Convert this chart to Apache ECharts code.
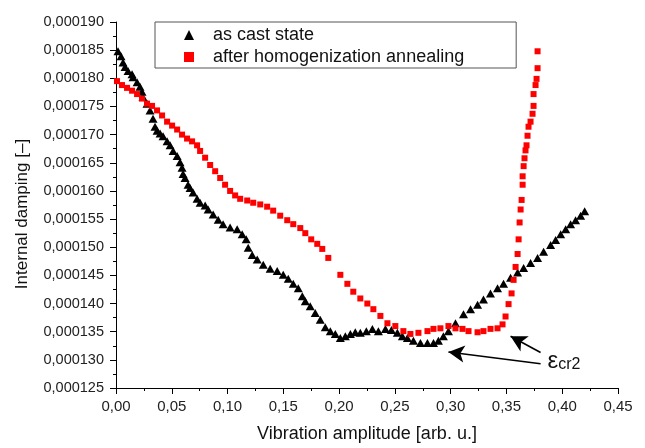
<!DOCTYPE html>
<html>
<head>
<meta charset="utf-8">
<script src="https://cdn.jsdelivr.net/npm/echarts@6/dist/echarts.min.js"></script>
<style>html,body{margin:0;padding:0;background:#fff}#c{width:645px;height:448px}</style>
</head>
<body>
<div id="c"></div>
<script>
// Internal damping values are stored in units of 1e-6
const castX = [0.0018,0.0045,0.0063,0.0081,0.0108,0.0144,0.0153,0.0189,0.0215,0.0233,0.0242,0.0278,0.0305,0.0332,0.0350,0.0368,0.0395,0.0422,0.0458,0.0485,0.0512,0.0548,0.0574,0.0592,0.0601,0.0619,0.0646,0.0664,0.0691,0.0727,0.0754,0.0799,0.0826,0.0871,0.0916,0.0960,0.1023,0.1086,0.1131,0.1167,0.1185,0.1221,0.1266,0.1320,0.1382,0.1445,0.1499,0.1544,0.1589,0.1634,0.1670,0.1697,0.1741,0.1786,0.1831,0.1876,0.1921,0.1966,0.2011,0.2056,0.2101,0.2145,0.2190,0.2244,0.2298,0.2352,0.2415,0.2469,0.2522,0.2567,0.2612,0.2666,0.2729,0.2792,0.2846,0.2890,0.2935,0.2980,0.3043,0.3115,0.3178,0.3241,0.3294,0.3357,0.3420,0.3474,0.3537,0.3600,0.3654,0.3716,0.3779,0.3833,0.3896,0.3941,0.3986,0.4031,0.4075,0.4120,0.4165,0.4201];
const castY = [184.8,183.9,182.8,182.0,181.3,180.7,180.2,179.3,178.5,177.6,176.7,175.5,174.3,172.8,171.4,170.7,170.2,169.7,168.8,168.1,167.1,166.2,165.1,164.1,163.0,162.3,161.1,160.5,159.7,158.6,157.9,157.4,156.7,155.8,154.9,154.1,153.5,153.2,152.3,151.4,149.9,148.6,147.8,146.9,146.2,145.8,145.1,144.4,143.5,142.7,141.3,140.4,139.5,138.3,137.1,135.8,135.1,134.6,133.9,134.2,134.6,134.9,134.8,135.1,135.5,135.1,135.5,135.3,134.8,134.2,133.9,133.4,133.0,133.0,133.0,133.4,134.2,135.1,136.5,138.1,139.0,139.8,140.7,141.8,142.7,143.5,144.6,145.5,146.3,147.2,148.1,149.2,150.4,151.3,152.3,153.2,154.1,154.8,155.6,156.4];
const annX = [0.0009,0.0054,0.0099,0.0144,0.0189,0.0233,0.0278,0.0323,0.0368,0.0413,0.0458,0.0503,0.0548,0.0592,0.0637,0.0682,0.0727,0.0754,0.0799,0.0844,0.0889,0.0934,0.0978,0.1023,0.1068,0.1113,0.1176,0.1230,0.1293,0.1355,0.1409,0.1472,0.1535,0.1589,0.1652,0.1697,0.1750,0.1804,0.1849,0.1903,0.2011,0.2074,0.2127,0.2190,0.2253,0.2307,0.2370,0.2433,0.2504,0.2576,0.2639,0.2711,0.2792,0.2846,0.2908,0.2980,0.3043,0.3106,0.3160,0.3241,0.3294,0.3357,0.3420,0.3465,0.3492,0.3519,0.3546,0.3564,0.3582,0.3600,0.3609,0.3618,0.3627,0.3636,0.3645,0.3645,0.3654,0.3662,0.3671,0.3680,0.3689,0.3698,0.3716,0.3734,0.3743,0.3743,0.3761,0.3770,0.3779,0.3779];
const annY = [179.5,178.8,178.3,177.8,177.2,176.4,175.5,175.1,174.3,173.4,172.3,171.6,170.9,170.0,169.3,168.8,168.1,167.1,165.9,164.6,163.5,162.3,161.1,160.0,159.2,158.6,158.3,157.9,157.6,157.2,156.5,155.6,154.8,154.1,153.4,152.5,151.4,150.6,149.7,148.1,145.1,143.5,142.1,140.9,140.0,139.0,137.8,136.5,136.0,135.1,134.6,134.8,135.1,135.5,135.6,136.0,135.6,135.5,135.1,134.9,135.1,135.5,135.6,136.3,137.7,139.9,141.8,144.2,146.5,148.8,151.4,154.4,156.7,158.4,161.1,162.6,164.4,165.8,167.2,168.1,169.8,171.4,172.3,173.7,175.1,177.2,178.8,179.9,181.8,184.8];
const seriesNames = ['as cast state', 'after homogenization annealing'];
const xTicks = {min: 0, max: 0.45, interval: 0.05};
const yTicks = {min: 125, max: 190, interval: 5};
// arrows [fromX, fromY, toX, toY] and label anchor
const arrows = [[0.3806,131.3,0.3537,134.2],[0.3806,129.3,0.2980,131.4]];
const labelAt = [0.3868,129.7];

const FONT = 'Liberation Sans, Arial, sans-serif';
const chart = echarts.init(document.getElementById('c'));
const zip = (xs, ys) => xs.map((x, i) => [x, ys[i]]);
chart.setOption({
  animation: false,
  backgroundColor: '#fff',
  grid: {left: 116, right: 27, top: 22, bottom: 55},
  legend: {
    left: 155, top: 22, orient: 'vertical',
    borderColor: '#555', borderWidth: 1,
    padding: [4, 52, 2, 29],
    itemWidth: 10, itemHeight: 10, itemGap: 4,
    textStyle: {fontFamily: FONT, fontSize: 18, color: '#111', padding: [0, 0, 0, 14]},
    data: [{name: seriesNames[0], icon: 'triangle'}, {name: seriesNames[1], icon: 'rect', itemStyle: {}}]
  },
  xAxis: {
    type: 'value', min: xTicks.min, max: xTicks.max, interval: xTicks.interval,
    name: 'Vibration amplitude [arb. u.]', nameLocation: 'middle', nameGap: 37,
    nameTextStyle: {fontFamily: FONT, fontSize: 18, color: '#111'},
    axisLine: {lineStyle: {color: '#000', width: 1}},
    axisTick: {inside: false, length: 6, lineStyle: {color: '#000'}},
    minorTick: {show: true, splitNumber: 2, length: 3, lineStyle: {color: '#000'}},
    splitLine: {show: false},
    axisLabel: {fontFamily: FONT, fontSize: 15, color: '#222', margin: 11,
      formatter: v => v.toFixed(2).replace('.', ',')}
  },
  yAxis: {
    type: 'value', min: yTicks.min, max: yTicks.max, interval: yTicks.interval,
    name: 'Internal damping [–]', nameLocation: 'middle', nameGap: 85,
    nameTextStyle: {fontFamily: FONT, fontSize: 17, color: '#111', padding: [0, 18, 0, 0]},
    axisLine: {show: true, lineStyle: {color: '#000', width: 1}},
    axisTick: {show: true, inside: false, length: 6, lineStyle: {color: '#000'}},
    minorTick: {show: true, splitNumber: 2, length: 3, lineStyle: {color: '#000'}},
    splitLine: {show: false},
    axisLabel: {fontFamily: FONT, fontSize: 14.5, color: '#222', margin: 12,
      formatter: v => (v * 1e-6).toFixed(6).replace('.', ',')}
  },
  series: [
    {
      name: seriesNames[0], type: 'scatter', symbol: 'triangle', symbolSize: [9, 8],
      itemStyle: {color: '#000', opacity: 1}, data: zip(castX, castY),
      markLine: {
        silent: true, symbol: ['none', 'arrow'], symbolSize: [13, 16],
        lineStyle: {color: '#000', width: 1.6, type: 'solid'}, label: {show: false},
        data: arrows.map(a => [{coord: [a[0], a[1]]}, {coord: [a[2], a[3]]}])
      },
      markPoint: {
        silent: true, symbol: 'circle', symbolSize: 0,
        data: [{coord: labelAt}],
        label: {show: true, position: 'right', distance: 0,
          formatter: '{e|ε}{s|cr2}',
          rich: {
            e: {fontFamily: FONT, fontSize: 24, color: '#111'},
            s: {fontFamily: FONT, fontSize: 16, color: '#111', padding: [6, 0, 0, 0]}
          }}
      }
    },
    {
      name: seriesNames[1], type: 'scatter', symbol: 'rect', symbolSize: 6,
      itemStyle: {color: '#ff0000', opacity: 1}, data: zip(annX, annY)
    }
  ]
});
</script>
</body>
</html>
